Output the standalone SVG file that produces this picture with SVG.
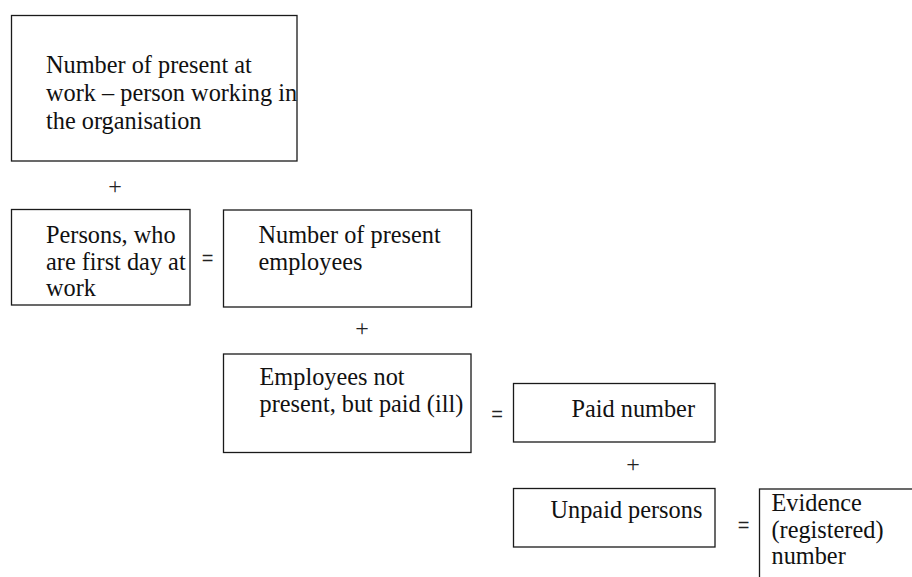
<svg xmlns="http://www.w3.org/2000/svg" width="912" height="577" viewBox="0 0 912 577">
<style>
  .box { fill: #ffffff; stroke: #1a1a1a; stroke-width: 1.3; }
  .t { font-family: 'Liberation Serif', Tinos, 'Times New Roman', Times, 'DejaVu Serif', serif; font-size: 24.3px; fill: #111111; }
  .plus { font-family: 'Liberation Serif', Tinos, 'Times New Roman', Times, 'DejaVu Serif', serif; font-size: 24px; fill: #222222; text-anchor: middle; }
  .eq { font-family: 'Liberation Sans', Arial, sans-serif; font-size: 20px; fill: #222222; text-anchor: middle; }
</style>
<rect width="912" height="577" fill="#ffffff"/>
<g id="present-at-work">
  <rect class="box" x="11.5" y="15.5" width="285.5" height="145.5"/>
  <text class="t" x="46" y="73">Number of present at</text>
  <text class="t" x="46" y="101">work – person working in</text>
  <text class="t" x="46" y="129">the organisation</text>
</g>
<g id="first-day">
  <rect class="box" x="11.5" y="209.5" width="178.5" height="95.5"/>
  <text class="t" x="46" y="243">Persons, who</text>
  <text class="t" x="46" y="269.5">are first day at</text>
  <text class="t" x="46" y="295.5">work</text>
</g>
<g id="present-employees">
  <rect class="box" x="223.5" y="210" width="248" height="97"/>
  <text class="t" x="258.5" y="243">Number of present</text>
  <text class="t" x="258.5" y="269.5">employees</text>
</g>
<g id="not-present-paid">
  <rect class="box" x="223.5" y="354" width="247.5" height="98.5"/>
  <text class="t" x="259.5" y="385">Employees not</text>
  <text class="t" x="259.5" y="411.5">present, but paid (ill)</text>
</g>
<g id="paid-number">
  <rect class="box" x="513.5" y="383.5" width="201.5" height="58.5"/>
  <text class="t" x="571.5" y="417">Paid number</text>
</g>
<g id="unpaid-persons">
  <rect class="box" x="513.5" y="488.5" width="201.5" height="58.5"/>
  <text class="t" x="550.5" y="518">Unpaid persons</text>
</g>
<g id="evidence-number">
  <rect class="box" x="759.5" y="489" width="160" height="100"/>
  <text class="t" x="771.5" y="511">Evidence</text>
  <text class="t" x="771.5" y="538">(registered)</text>
  <text class="t" x="771.5" y="564">number</text>
</g>
<g id="connectors">
  <text class="plus" x="115" y="194">+</text>
  <text class="eq" x="207.5" y="265">=</text>
  <text class="plus" x="362" y="336">+</text>
  <text class="eq" x="497" y="421">=</text>
  <text class="plus" x="633" y="472">+</text>
  <text class="eq" x="743.5" y="532">=</text>
</g>
</svg>
